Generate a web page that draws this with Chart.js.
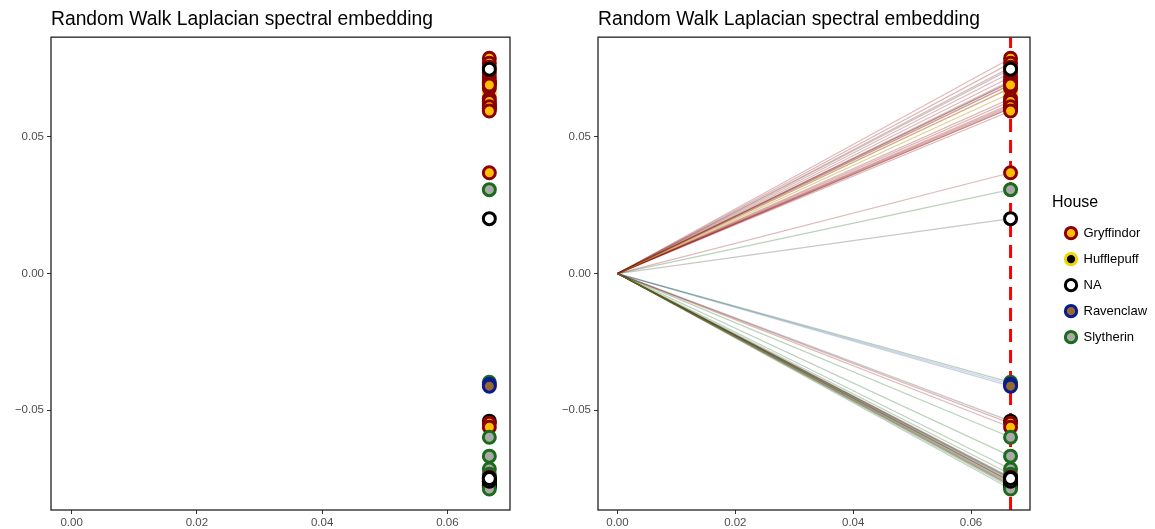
<!DOCTYPE html>
<html>
<head>
<meta charset="utf-8">
<script src="https://cdn.jsdelivr.net/npm/chart.js@4"></script>
<style>
  html, body { margin: 0; padding: 0; background: #fff; }
  #wrap { position: relative; width: 1155px; height: 529px; }
  #leftChart { position: absolute; left: 0; top: 0; }
  #rightChart { position: absolute; left: 547px; top: 0; }
</style>
</head>
<body>
<div id="wrap">
  <canvas id="leftChart" width="520" height="529"></canvas>
  <canvas id="rightChart" width="608" height="529"></canvas>
</div>
<script>
// data
const titleText = 'Random Walk Laplacian spectral embedding';
const houseNames = ['Gryffindor', 'Hufflepuff', 'NA', 'Ravenclaw', 'Slytherin'];

// one entry per node, in drawing order
const houses = [
  'NA', 'Hufflepuff',
  'Gryffindor', 'Gryffindor', 'Gryffindor', 'Hufflepuff', 'Hufflepuff',
  'Gryffindor', 'Gryffindor', 'Gryffindor', 'Gryffindor', 'Gryffindor',
  'Gryffindor', 'Gryffindor', 'Gryffindor', 'Gryffindor', 'Gryffindor',
  'Gryffindor', 'Gryffindor', 'Gryffindor', 'Gryffindor', 'Gryffindor',
  'NA',
  'Gryffindor', 'Slytherin', 'NA',
  'Slytherin', 'Ravenclaw', 'Ravenclaw', 'NA', 'Gryffindor',
  'Gryffindor', 'Slytherin', 'Slytherin', 'Slytherin', 'Slytherin',
  'Gryffindor', 'Slytherin', 'NA', 'NA', 'NA',
  'Gryffindor', 'NA', 'NA', 'Slytherin', 'NA',
  'NA', 'Slytherin', 'NA', 'NA'
];
const embedY = [
  0.0700, -0.0770,
  0.0788, 0.0770, 0.0755, 0.0660, 0.0680,
  0.0719, 0.0735, 0.0705, 0.0693, 0.0678,
  0.0640, 0.0615, 0.0620, 0.0630, 0.0605,
  0.0605, 0.0610, 0.0595, 0.0700, 0.0690,
  0.0748,
  0.0369, 0.0307, 0.0201,
  -0.0398, -0.0405, -0.0412, -0.0540, -0.0548,
  -0.0562, -0.0599, -0.0668, -0.0715, -0.0734,
  -0.0745, -0.0752, -0.0748, -0.0755, -0.0760,
  -0.0762, -0.0766, -0.0770, -0.0775, -0.0775,
  -0.0781, -0.0788, -0.0760, -0.0750
];
const embedX = [
  0.0667, 0.0667, 0.0667, 0.0667, 0.0667, 0.0667, 0.0667, 0.0667, 0.0667, 0.0667,
  0.0667, 0.0667, 0.0667, 0.0667, 0.0667, 0.0667, 0.0667, 0.0667, 0.0667, 0.0667,
  0.0667, 0.0667, 0.0667, 0.0667, 0.0667, 0.0667, 0.0667, 0.0667, 0.0667, 0.0667,
  0.0667, 0.0667, 0.0667, 0.0667, 0.0667, 0.0667, 0.0667, 0.0667, 0.0667, 0.0667,
  0.0667, 0.0667, 0.0667, 0.0667, 0.0667, 0.0667, 0.0667, 0.0667, 0.0667, 0.0667
];
const originX = 0;
const originY = 0;
const cutX = 0.0667;

const xTicks = [0, 0.02, 0.04, 0.06];
const yTicks = [-0.05, 0, 0.05];
const xRange = [-0.0033, 0.0700];
const yRange = [-0.0865, 0.0865];

// styles
const houseEdge = {
  Gryffindor: '#8b0000', Hufflepuff: '#f2d600', NA: '#000000',
  Ravenclaw: '#0a1a8f', Slytherin: '#1c6b1c'
};
const houseFill = {
  Gryffindor: '#ffbf00', Hufflepuff: '#000000', NA: '#ffffff',
  Ravenclaw: '#946b2d', Slytherin: '#a9a9a9'
};
const houseLine = {
  Gryffindor: 'rgba(139,0,0,0.28)', Hufflepuff: 'rgba(190,150,30,0.45)', NA: 'rgba(0,0,0,0.22)',
  Ravenclaw: 'rgba(40,70,160,0.25)', Slytherin: 'rgba(28,107,28,0.3)'
};

Chart.defaults.font.family = '"Liberation Sans", Arial, sans-serif';
Chart.defaults.animation = false;

function fmt(v) {
  return v.toFixed(2).replace('-', '\u2212');
}

const panelBox = {
  id: 'panelBox',
  afterDatasetsDraw(chart) {
    const { ctx, chartArea: a } = chart;
    ctx.save();
    ctx.strokeStyle = '#222';
    ctx.lineWidth = 1.3;
    ctx.strokeRect(a.left, a.top, a.right - a.left, a.bottom - a.top);
    ctx.restore();
  }
};

function makeScales() {
  const grid = { display: true, drawOnChartArea: false, drawTicks: true, tickLength: 4, tickColor: '#333', tickWidth: 1 };
  return {
    x: {
      type: 'linear', min: xRange[0], max: xRange[1],
      afterBuildTicks: s => { s.ticks = xTicks.map(v => ({ value: v })); },
      afterFit: s => { s.height = 19; },
      grid: grid,
      border: { display: false },
      ticks: { color: '#4d4d4d', font: { size: 11.5 }, padding: 2, autoSkip: false, maxRotation: 0, callback: v => fmt(v) }
    },
    y: {
      type: 'linear', min: yRange[0], max: yRange[1],
      afterBuildTicks: s => { s.ticks = yTicks.map(v => ({ value: v })); },
      afterFit: s => { s.width = 51; },
      grid: grid,
      border: { display: false },
      ticks: { color: '#4d4d4d', font: { size: 11.5 }, padding: 3, autoSkip: false, callback: v => fmt(v) }
    }
  };
}

const titleOpts = {
  display: true, text: titleText, align: 'start', fullSize: false,
  color: '#000', font: { size: 19.3, weight: 'normal' }, padding: { top: 8, bottom: 6 }
};

const pointData = embedX.map((x, i) => ({ x: x, y: embedY[i] }));
const pointSet = {
  type: 'scatter',
  data: pointData,
  pointRadius: 6,
  pointHoverRadius: 6,
  pointBorderWidth: 3,
  pointBackgroundColor: houses.map(h => houseFill[h]),
  pointBorderColor: houses.map(h => houseEdge[h]),
  order: 0
};

// left panel: points only
new Chart(document.getElementById('leftChart'), {
  type: 'scatter',
  data: { datasets: [pointSet] },
  options: {
    responsive: false,
    layout: { padding: { right: 10 } },
    scales: makeScales(),
    plugins: { title: titleOpts, legend: { display: false }, tooltip: { enabled: false } },
    events: []
  },
  plugins: [panelBox]
});

// right panel: segments from origin, cut line, points
const segments = embedX.map((x, i) => ({
  type: 'line',
  data: [{ x: originX, y: originY }, { x: x, y: embedY[i] }],
  borderColor: houseLine[houses[i]],
  borderWidth: 1.2,
  pointRadius: 0,
  order: 2
}));

const cutLine = {
  type: 'line',
  data: [{ x: cutX, y: yRange[0] }, { x: cutX, y: yRange[1] }],
  borderColor: '#ff0000',
  borderWidth: 3,
  borderDash: [13, 8],
  pointRadius: 0,
  order: 1
};

const rightScales = makeScales();
rightScales.y2 = {
  position: 'right', display: true,
  grid: { display: false }, border: { display: false }, ticks: { display: false },
  afterFit: s => { s.width = 22; }
};

new Chart(document.getElementById('rightChart'), {
  type: 'scatter',
  data: { datasets: [...segments, cutLine, Object.assign({}, pointSet)] },
  options: {
    responsive: false,
    layout: { padding: { right: 2 } },
    scales: rightScales,
    plugins: {
      title: titleOpts,
      tooltip: { enabled: false },
      legend: {
        position: 'right',
        fullSize: false,
        onClick: null,
        title: { display: true, text: 'House', position: 'start', color: '#000', font: { size: 16 }, padding: { top: 4, bottom: 0 } },
        labels: {
          usePointStyle: true, boxWidth: 12, boxHeight: 8, padding: 13,
          color: '#000', font: { size: 13 },
          generateLabels: () => houseNames.map(h => ({
            text: h, fillStyle: houseFill[h], strokeStyle: houseEdge[h],
            lineWidth: 3, pointStyle: 'circle', hidden: false, fontColor: '#000'
          }))
        }
      }
    },
    events: []
  },
  plugins: [panelBox]
});
</script>
</body>
</html>
